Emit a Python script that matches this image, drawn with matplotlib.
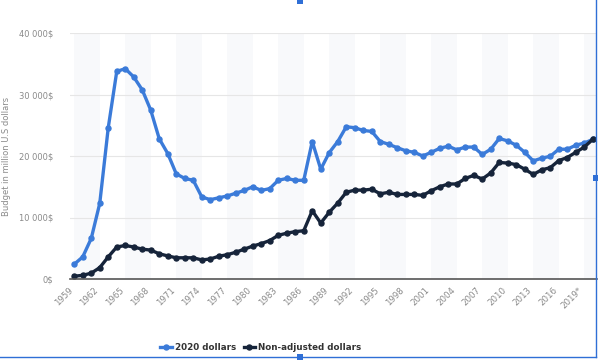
import matplotlib
matplotlib.use("Agg")
import matplotlib.pyplot as plt
import matplotlib.transforms as mtransforms
from matplotlib.lines import Line2D
from matplotlib.patches import Rectangle

years = list(range(1959, 2021))
dollars_2020 = [2400, 3600, 6600, 12300, 24600, 33750, 34200, 32850, 30750, 27450,
                22800, 20400, 17100, 16350, 16050, 13350, 12900, 13200, 13500, 13950,
                14400, 15000, 14400, 14700, 16050, 16350, 16050, 16050, 22350, 17850,
                20550, 22350, 24750, 24600, 24150, 24000, 22350, 21900, 21350, 20850,
                20600, 20000, 20600, 21250, 21600, 21000, 21450, 21450, 20250, 21100,
                22850, 22450, 21750, 20600, 19200, 19650, 19950, 21100, 21100, 21750,
                22100, 22700]
non_adjusted = [450, 600, 950, 1850, 3600, 5200, 5450, 5200, 4850, 4700,
                4100, 3750, 3450, 3450, 3450, 3100, 3250, 3700, 3950, 4350,
                4850, 5350, 5750, 6250, 7100, 7450, 7700, 7850, 11100, 9100,
                10850, 12350, 14100, 14450, 14450, 14600, 13850, 14100, 13750, 13750,
                13750, 13600, 14350, 15000, 15450, 15450, 16350, 16850, 16250, 17250,
                18950, 18850, 18600, 17850, 17000, 17750, 18100, 19250, 19750, 20600,
                21450, 22700]
tick_years = list(range(1959, 2020, 3))
tick_labels = [str(y) for y in tick_years[:-1]] + ["2019*"]
y_ticks = [0, 10000, 20000, 30000, 40000]
y_labels = ["0$", "10 000$", "20 000$", "30 000$", "40 000$"]
series_names = ["2020 dollars", "Non-adjusted dollars"]

blue = "#3b7bd9"
navy = "#16243a"
grey = "#8a8a8a"

fig = plt.figure(figsize=(5.98, 3.6), dpi=100)
ax = fig.add_axes([70/598, 1 - 279/360, 527/598, 246/360])

# alternating bands
for start in range(1959, 2021, 6):
    ax.axvspan(start, start + 3, color="#f8f9fb", zorder=0, lw=0)

ax.plot(years, dollars_2020, color=blue, lw=2.4, marker="o", ms=3.6, zorder=3)
ax.plot(years, non_adjusted, color=navy, lw=2.4, marker="o", ms=3.6, zorder=4)

ax.set_xlim(1958.5, 2020.5)
ax.set_ylim(0, 40000)
ax.set_yticks(y_ticks)
ax.set_yticklabels(y_labels, fontsize=6, color=grey)
ax.set_xticks(tick_years)
ax.set_xticklabels(tick_labels, fontsize=6.2, color=grey, rotation=45, ha="right",
                   rotation_mode="anchor")
ax.tick_params(axis="y", length=0, pad=12)
ax.tick_params(axis="x", length=0, pad=5)
shift = mtransforms.ScaledTranslation(-6/100, 0, fig.dpi_scale_trans)
for lbl in ax.get_xticklabels():
    lbl.set_transform(lbl.get_transform() + shift)
ax.grid(axis="y", color="#e6e6e6", lw=0.8, zorder=1)
for s in ["top", "right", "left"]:
    ax.spines[s].set_visible(False)
ax.spines["bottom"].set_color("#555555")
ax.spines["bottom"].set_linewidth(1.2)
ax.spines["bottom"].set_zorder(5)
ax.set_ylabel("Budget in million U.S dollars", fontsize=6, color=grey, labelpad=6)

handles = [Line2D([], [], color=blue, lw=2.4, marker="o", ms=3.6),
           Line2D([], [], color=navy, lw=2.4, marker="o", ms=3.6)]
leg = fig.legend(handles, series_names, loc="center", bbox_to_anchor=(261/598, 1 - 348/360),
                 ncol=2, frameon=False, fontsize=6.3, handlelength=1.3, columnspacing=0.8,
                 handletextpad=0.4)
for t in leg.get_texts():
    t.set_fontweight("bold")
    t.set_color("#333333")

# selection frame artifacts
edge = "#2f6fd6"
fig.add_artist(Line2D([596/598, 596/598], [1 - 357/360, 1], transform=fig.transFigure, color=edge, lw=1))
fig.add_artist(Line2D([0, 596/598], [1 - 357/360, 1 - 357/360], transform=fig.transFigure, color=edge, lw=1))
for (px, py) in [(596, 178), (300, 357), (300, 1)]:
    fig.add_artist(Rectangle(((px - 3)/598, 1 - (py + 3)/360), 6/598, 6/360,
                             transform=fig.transFigure, color=edge, lw=0))

fig.savefig("out.png", dpi=100)
